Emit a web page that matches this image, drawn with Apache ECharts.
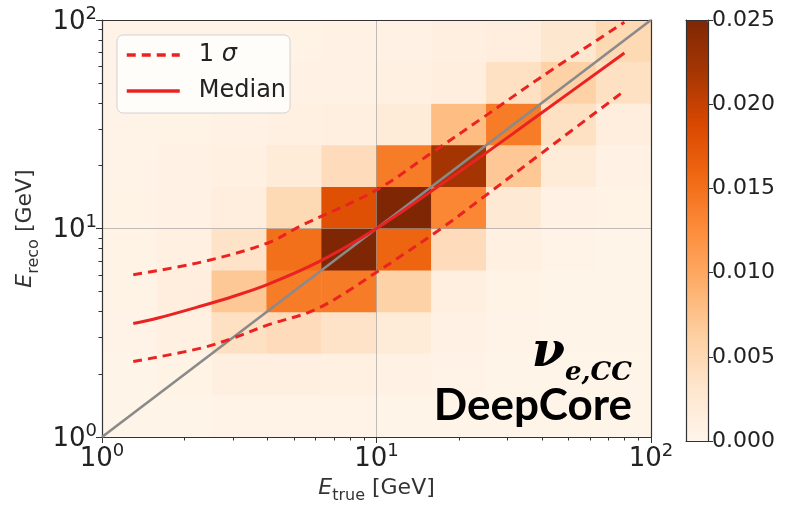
<!DOCTYPE html>
<html><head><meta charset="utf-8">
<script src="https://cdn.jsdelivr.net/npm/echarts@6/dist/echarts.min.js"></script>
<style>html,body{margin:0;padding:0;background:#fff}#c{width:795px;height:509px}</style>
</head><body><div id="c"></div>
<script>
// ---- data ----
const xBins = ['1.0-1.6','1.6-2.5','2.5-4.0','4.0-6.3','6.3-10','10-16','16-25','25-40','40-63','63-100'];
const yBins = ['1.0-1.6','1.6-2.5','2.5-4.0','4.0-6.3','6.3-10','10-16','16-25','25-40','40-63','63-100'];
// density rows, bottom (E_reco 1-1.6) to top (63-100); columns follow xBins
const row0 = [0.0003,0.0003,0.0004,0.0004,0.0004,0.0003,0.0003,0.0003,0.0003,0.0003];
const row1 = [0.0003,0.0005,0.0012,0.0012,0.0010,0.0006,0.0004,0.0003,0.0003,0.0003];
const row2 = [0.0004,0.0010,0.0040,0.0045,0.0035,0.0020,0.0008,0.0004,0.0003,0.0003];
const row3 = [0.0005,0.0015,0.0070,0.0140,0.0140,0.0060,0.0012,0.0005,0.0003,0.0003];
const row4 = [0.0005,0.0010,0.0035,0.0150,0.0250,0.0160,0.0045,0.0010,0.0004,0.0003];
const row5 = [0.0005,0.0008,0.0015,0.0050,0.0180,0.0250,0.0130,0.0025,0.0008,0.0005];
const row6 = [0.0004,0.0006,0.0010,0.0020,0.0045,0.0140,0.0220,0.0070,0.0020,0.0008];
const row7 = [0.0004,0.0005,0.0006,0.0010,0.0012,0.0020,0.0080,0.0140,0.0040,0.0015];
const row8 = [0.0004,0.0004,0.0005,0.0006,0.0008,0.0010,0.0015,0.0040,0.0060,0.0040];
const row9 = [0.0004,0.0004,0.0004,0.0005,0.0006,0.0008,0.0012,0.0015,0.0030,0.0050];
const densityRows = [row0,row1,row2,row3,row4,row5,row6,row7,row8,row9];

const medianX = [1.3, 1.6, 2.3, 3.0, 4.0, 6.2, 10, 15.4, 24.8, 40, 80];
const medianY = [3.5, 3.72, 4.25, 4.72, 5.38, 6.95, 10, 14.7, 22.8, 35.9, 69.5];
const upperX  = [1.3, 2.3, 4.0, 5.3, 10, 15.6, 24.8, 40, 80];
const upperY  = [6.0, 6.9, 8.5, 10.3, 15.3, 22.7, 34.5, 53.5, 97.5];
const lowerX  = [1.3, 2.3, 3.0, 4.0, 6.1, 10, 17.3, 24.8, 40, 80];
const lowerY  = [2.3, 2.67, 2.98, 3.44, 4.13, 6.17, 10.05, 14.3, 23.0, 45.7];
const diagX = [1, 100];
const diagY = [1, 100];

const majorTicks = [1, 10, 100];
const minorTicks = [2,3,4,5,6,7,8,9,20,30,40,50,60,70,80,90];
const cbarMin = 0, cbarMax = 0.025, cbarStep = 0.005;

// ---- build ----
const heatData = [];
densityRows.forEach((r, j) => r.forEach((v, i) => heatData.push([i, j, v])));
const zip = (a, b) => a.map((v, i) => [v, b[i]]);

const oranges = ['#fff5eb','#fee6ce','#fdd0a2','#fdae6b','#fd8d3c','#f16913','#d94801','#a63603','#7f2704'];
const FONT = 'DejaVu Sans';
const AX = '#333';
const TXT = '#222';
const expFmt = v => '{b|10}{s|' + Math.round(Math.log10(v)) + '}';
const expRich = {
  b: {fontFamily: FONT, fontSize: 26, color: TXT, lineHeight: 30, verticalAlign: 'bottom'},
  s: {fontFamily: FONT, fontSize: 18, color: TXT, lineHeight: 30, verticalAlign: 'top'}
};
const nameRich = {
  i: {fontFamily: FONT, fontStyle: 'italic', fontSize: 22, color: '#333', lineHeight: 26, verticalAlign: 'bottom'},
  sub: {fontFamily: FONT, fontSize: 16, color: '#333', lineHeight: 26, verticalAlign: 'bottom', padding: [0,0,-5,0]},
  t: {fontFamily: FONT, fontSize: 22, color: '#333', lineHeight: 26, verticalAlign: 'bottom'}
};
const hidden = {axisLabel: {show: false}, axisTick: {show: false}, splitLine: {show: false}};
const frameLine = {show: true, onZero: false, lineStyle: {color: AX, width: 1.2}};

const chart = echarts.init(document.getElementById('c'), null, {renderer: 'canvas'});
chart.setOption({
  animation: false,
  backgroundColor: '#fff',
  grid: [
    {left: 102, top: 20, width: 549, height: 421},
    {left: 686, top: 20, width: 22, height: 421}
  ],
  xAxis: [
    {type: 'log', logBase: 10, min: 1, max: 100, gridIndex: 0, position: 'bottom', z: 3,
     axisLine: frameLine,
     axisTick: {show: true, length: 6, customValues: majorTicks, lineStyle: {color: AX}},
     axisLabel: {customValues: majorTicks, formatter: expFmt, rich: expRich, margin: 5},
     splitLine: {show: true, lineStyle: {color: 'rgba(150,150,150,0.6)', width: 1}},
     name: '{i|E}{sub|true}{t| [GeV]}', nameLocation: 'middle', nameGap: 36,
     nameTextStyle: {rich: nameRich}},
    {type: 'log', logBase: 10, min: 1, max: 100, gridIndex: 0, position: 'bottom', z: 3,
     axisLine: {show: false},
     axisTick: {show: true, length: 3.5, customValues: minorTicks, lineStyle: {color: AX}},
     axisLabel: {show: false}, splitLine: {show: false}},
    Object.assign({type: 'category', data: xBins, gridIndex: 0, position: 'top', z: 3, axisLine: frameLine}, hidden),
    Object.assign({type: 'value', min: 0, max: 1, gridIndex: 1, position: 'bottom', z: 10, axisLine: frameLine}, hidden),
    Object.assign({type: 'value', min: 0, max: 1, gridIndex: 1, position: 'top', z: 10, axisLine: frameLine}, hidden)
  ],
  yAxis: [
    {type: 'log', logBase: 10, min: 1, max: 100, gridIndex: 0, position: 'left', z: 3,
     axisLine: frameLine,
     axisTick: {show: true, length: 6, customValues: majorTicks, lineStyle: {color: AX}},
     axisLabel: {customValues: majorTicks, formatter: expFmt, rich: expRich, margin: 5},
     splitLine: {show: true, lineStyle: {color: 'rgba(150,150,150,0.6)', width: 1}},
     name: '{i|E}{sub|reco}{t| [GeV]}', nameLocation: 'middle', nameGap: 54, nameRotate: 90,
     nameTextStyle: {rich: nameRich}},
    {type: 'log', logBase: 10, min: 1, max: 100, gridIndex: 0, position: 'left', z: 3,
     axisLine: {show: false},
     axisTick: {show: true, length: 3.5, customValues: minorTicks, lineStyle: {color: AX}},
     axisLabel: {show: false}, splitLine: {show: false}},
    Object.assign({type: 'category', data: yBins, gridIndex: 0, position: 'right', z: 3, axisLine: frameLine}, hidden),
    Object.assign({type: 'value', min: 0, max: 1, gridIndex: 1, position: 'left', z: 10, axisLine: frameLine}, hidden),
    {type: 'value', min: cbarMin, max: cbarMax, interval: cbarStep, gridIndex: 1, position: 'right', z: 10,
     axisLine: frameLine,
     axisTick: {show: true, length: 5, lineStyle: {color: AX}},
     axisLabel: {formatter: v => v.toFixed(3), fontFamily: FONT, fontSize: 22, color: TXT, margin: 4},
     splitLine: {show: false}}
  ],
  visualMap: {
    type: 'continuous', min: cbarMin, max: cbarMax, seriesIndex: 0,
    left: 686, top: 20, itemWidth: 22, itemHeight: 421, padding: 0,
    calculable: false, showLabel: false, text: null,
    inRange: {color: oranges}
  },
  legend: {
    data: ['1 σ', 'Median'], orient: 'vertical', left: 117, top: 35,
    itemWidth: 53, itemHeight: 24, itemGap: 12,
    itemStyle: {opacity: 0},
    lineStyle: {width: 3.5},
    backgroundColor: 'rgba(255,255,255,0.8)', borderColor: 'rgba(205,205,205,0.9)',
    borderWidth: 1, borderRadius: 6, padding: [8, 4, 10, 8],
    formatter: n => n === '1 σ' ? '{r|1 }{i|σ}' : '{r|' + n + '}',
    textStyle: {rich: {
      r: {fontFamily: FONT, fontSize: 24, color: TXT, lineHeight: 28, padding: [0,0,0,14]},
      i: {fontFamily: FONT, fontStyle: 'italic', fontSize: 24, color: TXT, lineHeight: 28}
    }}
  },
  series: [
    {type: 'heatmap', xAxisIndex: 2, yAxisIndex: 2, data: heatData, z: 2,
     itemStyle: {borderWidth: 0}, emphasis: {disabled: true}},
    {type: 'line', name: 'diag', xAxisIndex: 0, yAxisIndex: 0, data: zip(diagX, diagY),
     symbol: 'none', z: 4, lineStyle: {color: '#8a8a8a', width: 2.6}},
    {type: 'line', name: 'Median', xAxisIndex: 0, yAxisIndex: 0, data: zip(medianX, medianY),
     symbol: 'none', smooth: 0.35, z: 5, color: '#ea2222', lineStyle: {color: '#ea2222', width: 3}},
    {type: 'line', name: '1 σ', xAxisIndex: 0, yAxisIndex: 0, data: zip(upperX, upperY),
     symbol: 'none', smooth: 0.35, z: 5, color: '#ea2222', lineStyle: {color: '#ea2222', width: 3, type: [9, 6]}},
    {type: 'line', name: '1 σ', xAxisIndex: 0, yAxisIndex: 0, data: zip(lowerX, lowerY),
     symbol: 'none', smooth: 0.35, z: 5, color: '#ea2222', lineStyle: {color: '#ea2222', width: 3, type: [9, 6]}}
  ],
  graphic: [
    {type: 'text', right: 163, top: 330, z: 20, style: {
      text: '{n|ν}{s|e,CC}',
      rich: {
        n: {font: 'bold italic 48px "DejaVu Serif"', fill: '#000', verticalAlign: 'bottom', lineHeight: 50},
        s: {font: 'bold italic 26px "DejaVu Serif"', fill: '#000', verticalAlign: 'bottom', lineHeight: 50, padding: [0,0,-8,0]}
      }}},
    {type: 'text', right: 163, top: 384, z: 20, style: {
      text: 'DeepCore', font: 'bold 44px Lato', fill: '#000'}}
  ]
});
</script></body></html>
